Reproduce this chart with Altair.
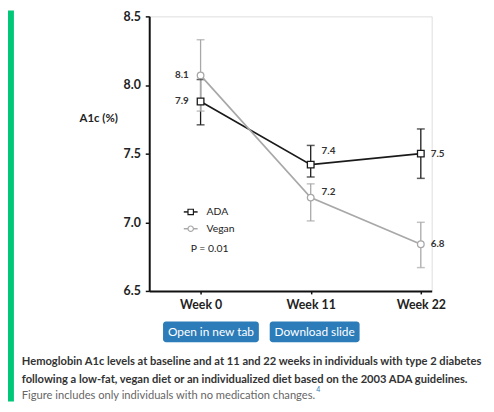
import altair as alt
import pandas as pd

weeks = [0, 11, 22]
groups = ["ADA", "Vegan"]
ada_mean = [7.88, 7.42, 7.50]
ada_lo = [7.71, 7.33, 7.32]
ada_hi = [8.04, 7.56, 7.68]
vegan_mean = [8.07, 7.18, 6.84]
vegan_lo = [7.81, 7.01, 6.67]
vegan_hi = [8.33, 7.28, 7.00]
y_ticks = [6.5, 7.0, 7.5, 8.0, 8.5]
p_text = "P = 0.01"
y_title = "A1c (%)"
buttons = ["Open in new tab", "Download slide"]
caption = [
    "Hemoglobin A1c levels at baseline and at 11 and 22 weeks in individuals with type 2 diabetes",
    "following a low-fat, vegan diet or an individualized diet based on the 2003 ADA guidelines.",
    "Figure includes only individuals with no medication changes.",
]
footnote = "4"

rows = []
for g, m, lo, hi in [("ADA", ada_mean, ada_lo, ada_hi), ("Vegan", vegan_mean, vegan_lo, vegan_hi)]:
    for w, mm, l, h in zip(weeks, m, lo, hi):
        rows.append({"week": w, "group": g, "mean": mm, "lo": l, "hi": h})
df = pd.DataFrame(rows)

FONT = "Lato"
COLORS = {"ADA": "#1a1a1a", "Vegan": "#a8a8a8"}
SHAPES = {"ADA": "square", "Vegan": "circle"}
xs = alt.Scale(domain=[-5.13, 23.085], nice=False, zero=False)
ys = alt.Scale(domain=[6.5, 8.5], nice=False, zero=False)
col = alt.Scale(domain=groups, range=[COLORS[g] for g in groups])
shp = alt.Scale(domain=groups, range=[SHAPES[g] for g in groups])

xax = alt.Axis(
    values=weeks, labelExpr="'Week ' + datum.value", title=None, grid=False,
    domainColor="#111", domainWidth=2, tickColor="#111", tickWidth=1.5, tickSize=3,
    labelFont=FONT, labelFontSize=12.5, labelFontWeight="bold", labelColor="#222",
    labelPadding=5)
yax = alt.Axis(
    values=y_ticks, format=".1f", title=y_title, grid=False,
    domainColor="#111", domainWidth=2, tickColor="#111", tickWidth=1.5, tickSize=4,
    labelFont=FONT, labelFontSize=12.5, labelFontWeight="bold", labelColor="#222",
    labelPadding=5,
    titleAngle=0, titleX=-71, titleY=103, titleAlign="left", titleBaseline="middle",
    titleFont=FONT, titleFontSize=11.5, titleFontWeight="bold", titleColor="#222")

def X():
    return alt.X("week:Q", scale=xs, axis=xax, title=None)

def Y(field):
    return alt.Y(f"{field}:Q", scale=ys, axis=yax, title=y_title)

base = alt.Chart(df)
C = alt.Color("group:N", scale=col, legend=None)

rules = base.mark_rule(strokeWidth=1.3).encode(x=X(), y=Y("lo"), y2="hi:Q", color=C)
cap_lo = base.mark_tick(orient="horizontal", size=8, thickness=1.5).encode(x=X(), y=Y("lo"), color=C)
cap_hi = base.mark_tick(orient="horizontal", size=8, thickness=1.5).encode(x=X(), y=Y("hi"), color=C)
lines = base.mark_line(strokeWidth=1.7).encode(x=X(), y=Y("mean"), color=C)
pts = base.mark_point(filled=True, fill="white", strokeWidth=1.3, size=45, opacity=1).encode(
    x=X(), y=Y("mean"),
    stroke=alt.Stroke("group:N", scale=col, legend=None),
    shape=alt.Shape("group:N", scale=shp, legend=None))

def lab(filt, align, dx, dy):
    return base.transform_filter(filt).mark_text(
        align=align, baseline="middle", dx=dx, dy=dy, font=FONT, fontSize=10,
        fontWeight="bold", color="#333").encode(
        x=X(), y=Y("mean"), text=alt.Text("mean:Q", format=".1f"))

labels = [
    lab("datum.week == 0", "right", -12, 0),
    lab("datum.week == 11 && datum.group == 'ADA'", "left", 11, -14),
    lab("datum.week == 11 && datum.group == 'Vegan'", "left", 11, -6),
    lab("datum.week == 22", "left", 10, 0),
]

one = alt.Chart(pd.DataFrame({"a": [0]}))

def txt(s, x, y, size, color="#222", weight="normal", align="left"):
    return one.mark_text(align=align, baseline="middle", font=FONT, fontSize=size,
                         fontWeight=weight, color=color, text=s).encode(
        x=alt.value(x), y=alt.value(y))

# legend (decoration)
legend = []
for g, yy in zip(groups, [198, 215]):
    legend.append(one.mark_rule(strokeWidth=1.5, color=COLORS[g]).encode(
        x=alt.value(35), x2=alt.value(49), y=alt.value(yy)))
    legend.append(one.mark_point(filled=True, fill="white", stroke=COLORS[g], strokeWidth=1.2,
                                 size=30, opacity=1, shape=SHAPES[g]).encode(
        x=alt.value(42), y=alt.value(yy)))
    legend.append(txt(g, 58, yy, 10.5))
legend.append(txt(p_text, 42, 236, 10.5))

# page decorations
deco = [one.mark_rect(color="#00c878").encode(
    x=alt.value(-143), x2=alt.value(-137), y=alt.value(-6), y2=alt.value(390))]
for b, (x1, x2) in zip(buttons, [(14, 111), (122, 213)]):
    deco.append(one.mark_rect(color="#2b7cb9", cornerRadius=3).encode(
        x=alt.value(x1), x2=alt.value(x2), y=alt.value(309), y2=alt.value(330)))
    deco.append(txt(b, (x1 + x2) / 2, 320, 12, color="white", align="center"))
deco.append(txt(caption[0], -129, 350, 11.3, color="#333", weight="bold"))
deco.append(txt(caption[1], -129, 368, 11.3, color="#333", weight="bold"))
deco.append(txt(caption[2], -129, 384, 11.3, color="#666"))
deco.append(txt(footnote, 169, 378, 7, color="#2b7cb9"))

chart = alt.layer(
    *deco, rules, cap_lo, cap_hi, lines, pts, *labels, *legend,
).properties(
    width=286, height=278,
    padding={"left": 143, "top": 6, "right": 55, "bottom": 112},
    autosize=alt.AutoSizeParams(type="none"),
).configure_view(stroke=None).configure(background="white")

chart.save("out.html", embed_options={"renderer": "svg", "actions": False})
